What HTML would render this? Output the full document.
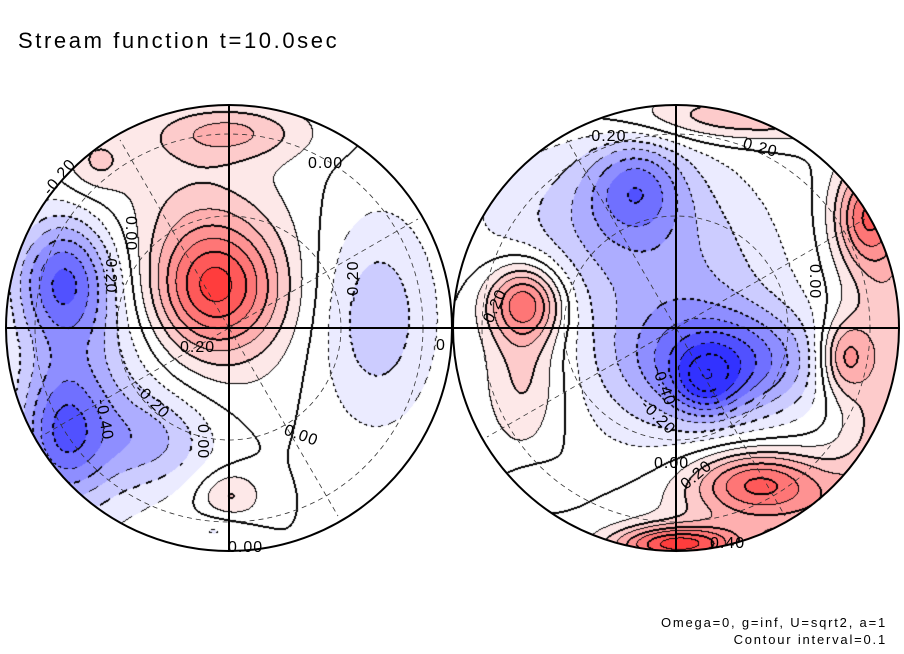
<!DOCTYPE html>
<html><head><meta charset="utf-8">
<style>
html,body{margin:0;padding:0;background:#fff;}
#wrap{position:relative;width:904px;height:654px;overflow:hidden;font-family:"Liberation Sans",sans-serif;}
canvas,svg{position:absolute;left:0;top:0;}
</style></head>
<body>
<div id="wrap">
<canvas id="cv" width="904" height="654"></canvas>
<svg width="904" height="654">
  <text x="18" y="48" font-size="22" letter-spacing="2.6" fill="#000">Stream function t=10.0sec</text>
  <g fill="none" stroke="#333" stroke-width="0.8" stroke-dasharray="5,4">
    <circle cx="229" cy="328" r="112"/><circle cx="229" cy="328" r="194"/>
    <line x1="229" y1="328" x2="120" y2="140"/><line x1="229" y1="328" x2="338" y2="516"/>
    <line x1="229" y1="328" x2="40" y2="437"/><line x1="229" y1="328" x2="418" y2="219"/>
    <circle cx="676" cy="328" r="112"/><circle cx="676" cy="328" r="194"/>
    <line x1="676" y1="328" x2="567" y2="140"/><line x1="676" y1="328" x2="785" y2="516"/>
    <line x1="676" y1="328" x2="487" y2="437"/><line x1="676" y1="328" x2="865" y2="219"/>
  </g>
  <g fill="none" stroke="#000" stroke-width="2">
    <circle cx="229" cy="328" r="223"/>
    <circle cx="676" cy="328" r="223"/>
    <line x1="5" y1="328" x2="899" y2="328"/>
    <line x1="229" y1="105" x2="229" y2="551"/>
    <line x1="676" y1="105" x2="676" y2="551"/>
  </g>
  <g font-size="16" letter-spacing="1" fill="#000">
    <text x="308" y="168">0.00</text>
    <text x="180" y="352">0.20</text>
    <text x="283" y="434" transform="rotate(20 283 434)">0.00</text>
    <text x="134" y="390" transform="rotate(45 134 390)">-0.20</text>
    <text x="96" y="400" transform="rotate(80 96 400)">-0.40</text>
    <text x="126" y="216" transform="rotate(90 126 216)">0.00</text>
    <text x="106" y="252" transform="rotate(90 106 252)">-0.20</text>
    <text x="358" y="302" transform="rotate(-90 358 302)">-0.20</text>
    <text x="198" y="424" transform="rotate(90 198 424)">0.00</text>
    <text x="436" y="350">0</text>
    <text x="228" y="552">0.00</text>
    <text x="50" y="196" transform="rotate(-50 50 196)">-0.20</text>
    <text x="585" y="141">-0.20</text>
    <text x="742" y="148" transform="rotate(15 742 148)">0.20</text>
    <text x="810" y="264" transform="rotate(90 810 264)">0.00</text>
    <text x="492" y="324" transform="rotate(-65 492 324)">0.20</text>
    <text x="652" y="368" transform="rotate(70 652 368)">-0.40</text>
    <text x="640" y="406" transform="rotate(45 640 406)">-0.20</text>
    <text x="654" y="468">0.00</text>
    <text x="686" y="490" transform="rotate(-40 686 490)">0.20</text>
    <text x="710" y="548">0.40</text>
  </g>
  <text x="887" y="627" font-size="13" letter-spacing="1.8" text-anchor="end">Omega=0, g=inf, U=sqrt2, a=1</text>
  <text x="887" y="644" font-size="13" letter-spacing="1.8" text-anchor="end">Contour interval=0.1</text>
</svg>
</div>
<script>
// Extrema of the stream function (normalized disk coords u,v in [-1,1]; amplitude; spread)
const leftU   = [-0.07,-0.05,-0.75,-0.75,-0.60,-0.33, 0.65, 0.00,-0.30, 0.00,-0.05,-0.60];
const leftV   = [-0.19,-0.12,-0.22, 0.47, 0.15, 0.50,-0.05,-0.88,-0.62, 0.75, 0.90,-0.75];
const leftAmp = [ 0.60, 0.15,-0.50,-0.45,-0.25,-0.25,-0.28, 0.28, 0.14, 0.22,-0.12, 0.18];
const leftSu  = [ 0.20, 0.35, 0.15, 0.14, 0.25, 0.20, 0.20, 0.25, 0.35, 0.10, 0.10, 0.10];
const leftSv  = [ 0.20, 0.33, 0.20, 0.22, 0.50, 0.15, 0.35, 0.09, 0.22, 0.08, 0.05, 0.10];
const rightU   = [-0.18,-0.35, 0.00, 0.25, 0.13,-0.68,-0.68, 0.75, 0.85, 0.95, 0.35, 0.00, 0.50, 0.30,-0.62];
const rightV   = [-0.64,-0.50, 0.00, 0.15, 0.25,-0.12, 0.20, 0.13,-0.50, 0.10, 0.68, 0.97, 0.80,-0.95, 0.69];
const rightAmp = [-0.35,-0.22,-0.30,-0.45,-0.30, 0.55, 0.25, 0.40, 0.45, 0.28, 0.45, 0.70, 0.30, 0.30,-0.12];
const rightSu  = [ 0.15, 0.40, 0.35, 0.28, 0.10, 0.12, 0.13, 0.08, 0.10, 0.15, 0.20, 0.20, 0.40, 0.40, 0.10];
const rightSv  = [ 0.15, 0.25, 0.40, 0.16, 0.10, 0.12, 0.25, 0.12, 0.15, 0.90, 0.10, 0.06, 0.15, 0.08, 0.06];
const levelStep = 0.1;

const W=904,H=654,R=223;
const disks=[{cx:229,cy:328,u:leftU,v:leftV,a:leftAmp,su:leftSu,sv:leftSv},
             {cx:676,cy:328,u:rightU,v:rightV,a:rightAmp,su:rightSu,sv:rightSv}];
const cv=document.getElementById('cv'),ctx=cv.getContext('2d');
const img=ctx.createImageData(W,H),d=img.data;
const L=new Int16Array(W*H).fill(-999);
for(const k of disks){
  for(let y=k.cy-R;y<=k.cy+R;y++)for(let x=k.cx-R;x<=k.cx+R;x++){
    const u=(x-k.cx)/R,v=(y-k.cy)/R;if(u*u+v*v>1)continue;
    let f=0;for(let i=0;i<k.a.length;i++){const du=(u-k.u[i])/k.su[i],dv=(v-k.v[i])/k.sv[i];f+=k.a[i]*Math.exp(-0.5*(du*du+dv*dv));}
    L[y*W+x]=Math.floor(f/levelStep);
  }
}
function col(l){
  if(l===0||l===-1)return[255,255,255];
  if(l>0){const t=Math.min(1,(l-1)/7);return[253+2*t,232-200*t,232-200*t];}
  const t=Math.min(1,(-l-2)/6);return[235-185*t,235-185*t,255];
}
for(let y=0;y<H;y++)for(let x=0;x<W;x++){
  const p=y*W+x,o=p*4;const l=L[p];
  if(l===-999){d[o]=d[o+1]=d[o+2]=255;d[o+3]=255;continue;}
  const c=col(l);d[o]=c[0];d[o+1]=c[1];d[o+2]=c[2];d[o+3]=255;
}
function mark(p){const o=p*4;d[o]=d[o+1]=d[o+2]=0;}
for(let y=0;y<H-1;y++)for(let x=0;x<W-1;x++){
  const p=y*W+x,l=L[p];if(l===-999)continue;
  for(const q of [p+1,p+W]){
    const m=L[q];if(m===-999||m===l)continue;
    const b=Math.max(l,m);
    if(b<0&&(((x+y)>>2)&1)===0)continue;
    mark(p);
    if(b%2===0)mark(q);
  }
}
ctx.putImageData(img,0,0);
</script>
</body></html>
